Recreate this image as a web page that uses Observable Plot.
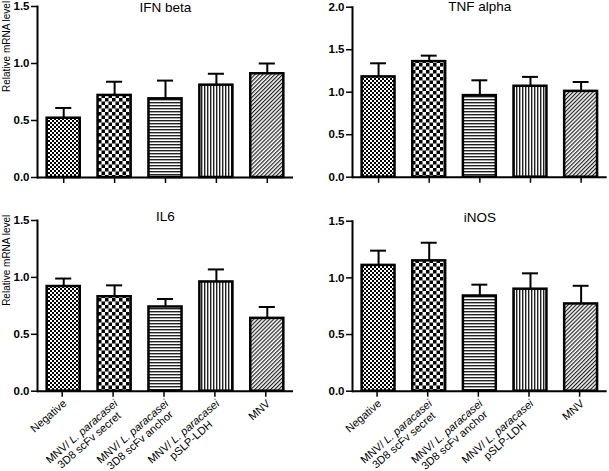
<!DOCTYPE html>
<html><head><meta charset="utf-8">
<script src="https://cdn.jsdelivr.net/npm/d3@7"></script>
<script src="https://cdn.jsdelivr.net/npm/@observablehq/plot@0.6"></script>
<style>
html,body{margin:0;padding:0;background:#fff;}
#root{position:relative;width:609px;height:471px;overflow:hidden;font-family:"Liberation Sans",Arial,sans-serif;}
.panel{position:absolute;}
</style></head><body>
<svg width="0" height="0" style="position:absolute">
<defs>
  <pattern id="pFineCheck" patternUnits="userSpaceOnUse" width="4" height="4">
    <rect width="4" height="4" fill="#fff"/>
    <rect x="0" y="0" width="2" height="2" fill="#000"/>
    <rect x="2" y="2" width="2" height="2" fill="#000"/>
  </pattern>
  <pattern id="pCoarseCheck" patternUnits="userSpaceOnUse" width="7" height="7">
    <rect width="7" height="7" fill="#fff"/>
    <rect x="0" y="0" width="3.5" height="3.5" fill="#000"/>
    <rect x="3.5" y="3.5" width="3.5" height="3.5" fill="#000"/>
  </pattern>
  <pattern id="pHoriz" patternUnits="userSpaceOnUse" width="3" height="3">
    <rect width="3" height="3" fill="#fff"/>
    <rect x="0" y="0" width="3" height="1.4" fill="#222"/>
  </pattern>
  <pattern id="pVert" patternUnits="userSpaceOnUse" width="3" height="3">
    <rect width="3" height="3" fill="#fff"/>
    <rect x="0" y="0" width="1.4" height="3" fill="#222"/>
  </pattern>
  <pattern id="pDiag" patternUnits="userSpaceOnUse" width="2.8" height="2.8" patternTransform="rotate(45)">
    <rect width="2.8" height="2.8" fill="#fff"/>
    <rect x="0" y="0" width="1.2" height="2.8" fill="#222"/>
  </pattern>
</defs></svg>
<div id="root"></div>
<script>
const categories = [
  "Negative",
  "MNV/ L. paracasei\n3D8 scFv secret",
  "MNV/ L. paracasei\n3D8 scFv anchor",
  "MNV/ L. paracasei\npSLP-LDH",
  "MNV"
];
const patternFills = ["url(#pFineCheck)", "url(#pCoarseCheck)", "url(#pHoriz)", "url(#pVert)", "url(#pDiag)"];

const ifnMean = [0.52, 0.72, 0.69, 0.81, 0.91];
const ifnSem  = [0.09, 0.12, 0.16, 0.10, 0.09];
const tnfMean = [1.18, 1.36, 0.96, 1.07, 1.01];
const tnfSem  = [0.16, 0.07, 0.18, 0.11, 0.11];
const il6Mean = [0.92, 0.83, 0.74, 0.96, 0.64];
const il6Sem  = [0.07, 0.10, 0.07, 0.11, 0.10];
const inosMean = [1.11, 1.15, 0.84, 0.90, 0.77];
const inosSem  = [0.13, 0.16, 0.10, 0.14, 0.16];

const ticks15 = [0, 0.5, 1.0, 1.5];
const ticks20 = [0, 0.5, 1.0, 1.5, 2.0];
const yLabel = "Relative mRNA level";

const root = document.getElementById("root");

function panel(o) {
  const data = categories.map((c, i) => ({group: c, mean: o.means[i], upper: o.means[i] + o.sems[i]}));
  const marks = [
    Plot.ruleX(data, {x: "group", y1: "mean", y2: "upper", strokeWidth: 2}),
    Plot.tickY(data, {x: "group", y: "upper", strokeWidth: 2, insetLeft: 8.5, insetRight: 8.5}),
    Plot.barY(data, {x: "group", y: "mean", fill: "group", stroke: "#000", strokeWidth: 2.5}),
    Plot.ruleY([0], {strokeWidth: 2}),
    Plot.frame({anchor: "left", strokeWidth: 2}),
    Plot.axisY({ticks: o.yTicks, tickFormat: d3.format(".1f"), tickSize: 6, tickPadding: 2, fontSize: 11.5, fontWeight: "bold", strokeWidth: 1.5, label: null}),
    Plot.axisX({tickSize: 6, strokeWidth: 1.5, tickRotate: o.showLabels ? -41 : 0, tickFormat: o.showLabels ? (d => d) : (() => ""), fontSize: 11, label: null, tickPadding: 1.5, dx: o.showLabels ? -1.5 : 0, ...(o.showLabels ? {textAnchor: "end", lineAnchor: "top"} : {})}),
    Plot.text([o.title], {frameAnchor: "top", dy: o.titleDy, fontSize: 13.5, lineAnchor: "middle"})
  ];
  if (o.showYLabel) marks.push(Plot.text([yLabel], {frameAnchor: "left", rotate: -90, dx: -30.5, fontSize: 10}));
  const chart = Plot.plot({
    width: o.width, height: o.height,
    marginLeft: o.marginLeft, marginRight: o.marginRight, marginTop: o.marginTop, marginBottom: o.marginBottom,
    style: {fontFamily: '"Liberation Sans", Arial, sans-serif', background: "transparent", overflow: "visible", color: "#000"},
    x: {domain: categories, paddingInner: 0.35, paddingOuter: 0.19, round: false, axis: null},
    y: {domain: [0, o.yMax], axis: null},
    color: {type: "ordinal", domain: categories, range: patternFills},
    marks
  });
  chart.classList.add("panel");
  chart.style.left = o.left + "px";
  chart.style.top = o.top + "px";
  root.appendChild(chart);
  // italicize species name
  d3.select(chart).selectAll("text, tspan").each(function() {
    const el = this;
    if (el.childElementCount === 0 && el.textContent.startsWith("MNV/ L. paracasei")) {
      el.textContent = "MNV/ ";
      d3.select(el).append("tspan").attr("font-style", "italic").text("L. paracasei");
    }
  });
  // center the lines of multi-line labels within the block, as in the reference
  d3.select(chart).selectAll("text").each(function() {
    const lines = Array.from(this.children).filter(c => c.tagName === "tspan" && c.hasAttribute("x"));
    if (lines.length < 2) return;
    const lens = lines.map(t => t.getComputedTextLength());
    const maxLen = Math.max(...lens);
    lines.forEach((t, i) => {
      t.setAttribute("x", -(maxLen - lens[i]) / 2);
      if (i > 0) t.setAttribute("dy", "1.04em");
    });
  });
}

panel({title: "IFN beta", means: ifnMean, sems: ifnSem, yMax: 1.5, yTicks: ticks15, left: 0, top: 0, width: 300, height: 200, marginLeft: 37, marginRight: 7, marginTop: 6, marginBottom: 23, showLabels: false, showYLabel: true, titleDy: 1.5});
panel({title: "TNF alpha", means: tnfMean, sems: tnfSem, yMax: 2.0, yTicks: ticks20, left: 300, top: 0, width: 309, height: 200, marginLeft: 52, marginRight: 2.3, marginTop: 6.7, marginBottom: 23.3, showLabels: false, showYLabel: false, titleDy: -1});
panel({title: "IL6", means: il6Mean, sems: il6Sem, yMax: 1.5, yTicks: ticks15, left: 0, top: 200, width: 300, height: 271, marginLeft: 37, marginRight: 7, marginTop: 20, marginBottom: 80.3, showLabels: true, showYLabel: true, titleDy: -4});
panel({title: "iNOS", means: inosMean, sems: inosSem, yMax: 1.5, yTicks: ticks15, left: 300, top: 200, width: 309, height: 271, marginLeft: 52, marginRight: 2.3, marginTop: 20.7, marginBottom: 80.3, showLabels: true, showYLabel: false, titleDy: -3.5});
</script>
</body></html>
